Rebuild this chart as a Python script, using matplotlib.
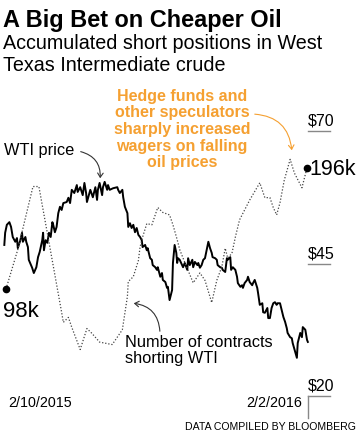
import matplotlib
matplotlib.use("Agg")
import matplotlib.pyplot as plt
from matplotlib.patches import FancyArrowPatch

plt.rcParams["font.family"] = ["Liberation Sans", "DejaVu Sans"]

# ── Data ─────────────────────────────────────────────────────────────────────

# WTI crude price, days since 2/10/2015
price_days = [
    -2, -1, 1, 4, 6, 8, 11, 13, 14, 17, 19, 20, 23, 24, 26, 27, 31, 33, 36, 38,
    40, 43, 44, 45, 47, 49, 51, 53, 55, 56, 58, 60, 62, 64, 66, 68, 72, 74, 76, 78,
    81, 84, 85, 88, 91, 93, 95, 96,
    100, 103, 106, 108, 109, 111, 114, 115, 117, 120, 121, 123, 127, 132, 133, 135,
    138, 139, 141, 144, 145, 147, 149, 151, 153, 155, 157, 159, 161, 162, 165, 167,
    168, 171, 173, 174, 177, 179, 180, 183, 185, 186, 189, 191, 192, 194, 197, 198,
    200, 202, 203, 204,
    206, 210, 212, 215, 216, 218, 221, 222, 224, 227, 228, 230, 232, 234, 236, 238,
    240, 242, 244, 245, 248, 250, 251, 254, 256, 257, 260, 262, 263, 266, 267, 269,
    272, 274, 275, 278, 280, 281, 283, 286, 287, 289, 292, 293, 295, 298, 299, 301,
    304, 305, 307, 310, 311, 313, 315, 317, 319, 321, 322, 325, 327, 329, 331, 333,
    334, 337, 339, 340, 343, 345, 346, 349, 351, 352, 355, 357, 358,
]
wti_price = [
    48.5, 50.8, 52.3, 52.8, 51.9, 50.0, 49.1, 49.8, 47.9, 49.4, 50.8, 49.1, 50.0, 49.1,
    48.1, 45.7, 44.2, 43.2, 44.3, 46.2, 47.2, 49.4, 50.8, 47.5, 49.4, 48.9, 50.8, 50.0,
    52.8, 52.3, 50.9, 51.9, 54.5, 55.7, 55.1, 56.4, 56.6, 57.4, 56.4, 58.9, 58.3, 59.8,
    58.5, 59.4, 57.9, 60.2, 58.3, 56.6,
    58.9, 57.5, 59.4, 57.0, 58.9, 60.2, 57.9, 59.4, 60.4, 58.9, 59.8, 58.9, 59.2, 59.4,
    58.9, 58.3, 58.9, 57.5, 55.7, 54.5, 51.9, 52.6, 51.7, 52.3, 50.9, 51.7, 50.4, 50.0,
    49.4, 48.1, 48.5, 47.5, 47.9, 46.0, 45.7, 44.7, 44.3, 43.8, 44.3, 42.5, 43.2, 41.9,
    41.5, 40.4, 40.6, 38.1, 40.0, 45.1, 48.5, 47.0, 45.1, 46.0,
    45.7, 44.3, 45.1, 43.8, 46.0, 44.7, 45.7, 44.3, 45.3, 44.7, 45.1, 44.2, 44.7, 45.7,
    46.0, 47.5, 49.1, 47.9, 47.0, 46.2, 46.0, 45.7, 44.7, 44.3, 44.2, 43.8, 43.4, 46.0,
    45.7, 46.2, 43.8, 44.3, 43.8, 42.5, 41.3, 40.6, 40.9, 40.4, 41.3, 41.9, 42.5, 41.5,
    40.9, 41.3, 41.9, 40.4, 39.4, 37.2, 37.5, 35.8, 35.7, 36.6, 34.7, 34.7, 36.6, 37.5,
    37.7, 37.2, 37.5, 37.5, 36.2, 34.9, 34.0, 32.8, 31.9, 31.1, 30.9, 30.0, 28.3, 27.2,
    30.0, 31.9, 31.1, 33.0, 32.5, 30.6, 30.2,
]

# Net short contracts (thousands), weekly
short_days = [
    0, 14, 32, 39, 52, 66, 68, 74, 78, 88, 96, 102, 111, 126, 138, 144, 145, 151,
    157, 159, 162, 167, 173, 180, 186, 194, 198, 203, 206, 210, 216, 222, 230, 236,
    244, 250, 256, 260, 263, 268, 272, 277, 289, 301, 307, 313, 317, 321, 325, 330,
    337, 342, 351, 357,
]
short_k = [
    98, 130, 181, 181, 132, 79, 71, 75, 67, 49, 66, 62, 55, 53, 65, 92, 104, 108,
    121, 132, 140, 151, 150, 164, 160, 158, 150, 138, 130, 123, 113, 103, 111, 105,
    87, 105, 116, 131, 123, 127, 140, 154, 170, 184, 172, 172, 164, 158, 168, 186,
    203, 192, 180, 196,
]

price_ticks = [70, 45, 20]
date_labels = ["2/10/2015", "2/2/2016"]

ORANGE = "#F5A031"
W, H = 360, 438


def fp(x, y):
    """Pixel position (origin top-left) -> figure fraction."""
    return x / W, 1 - y / H


# ── Figure ───────────────────────────────────────────────────────────────────

fig = plt.figure(figsize=(W / 100, H / 100), dpi=100)
ax = fig.add_axes([6 / W, 42 / H, 301 / W, 265 / H])
ax.set_xlim(0, 357)
ax.set_ylim(20, 70)
ax.axis("off")

ax2 = ax.twinx()
k_per_px = (196 - 98) / (289 - 168)
ax2.set_ylim(98 - (396 - 289) * k_per_px, 98 + (289 - 131) * k_per_px)
ax2.axis("off")

ax.plot(price_days, wti_price, color="black", lw=1.4, clip_on=False,
        solid_joinstyle="round")
ax2.plot(short_days, short_k, color="#444444", lw=0.9, ls=(0, (1, 1.5)),
         clip_on=False)
ax2.plot([short_days[0], short_days[-1]], [short_k[0], short_k[-1]], "o",
         color="black", ms=4.5, clip_on=False)
ax2.annotate(f"{short_k[0]}k", (short_days[0], short_k[0]), xytext=(-2, -20),
             textcoords="offset points", fontsize=16, va="baseline", ha="left")
ax2.annotate(f"{short_k[-1]}k", (short_days[-1], short_k[-1]), xytext=(2, -5),
             textcoords="offset points", fontsize=15.5, va="baseline", ha="left")

# Price scale on the right, underlined
for p in price_ticks:
    ax.text(1.004, p + 1.0, f"${p}", transform=ax.get_yaxis_transform(),
            fontsize=11.5, va="baseline", ha="left")
    ax.plot([1.004, 1.076], [p, p], transform=ax.get_yaxis_transform(),
            color="#888888", lw=1, clip_on=False)
ax.plot([1.004, 1.004], [20, 20 - 22 / 5.3], transform=ax.get_yaxis_transform(),
        color="#888888", lw=1, clip_on=False)

# ── Text ─────────────────────────────────────────────────────────────────────

fig.text(*fp(3, 27), "A Big Bet on Cheaper Oil", fontsize=16.9, weight="bold",
         va="baseline")
fig.text(*fp(3, 49), "Accumulated short positions in West", fontsize=14.2,
         va="baseline")
fig.text(*fp(3, 71), "Texas Intermediate crude", fontsize=14.2, va="baseline")

fig.text(*fp(4, 155), "WTI price", fontsize=11.8, va="baseline")
fig.text(*fp(125, 347), "Number of contracts", fontsize=11.8, va="baseline")
fig.text(*fp(125, 363), "shorting WTI", fontsize=11.8, va="baseline")

orange_lines = ["Hedge funds and", "other speculators", "sharply increased",
                "wagers on falling", "oil prices"]
for i, line in enumerate(orange_lines):
    fig.text(*fp(182, 101 + i * 16.5), line, fontsize=11.5, weight="bold",
             color=ORANGE, ha="center", va="baseline")

fig.text(*fp(8, 407), date_labels[0], fontsize=10.3, va="baseline")
fig.text(*fp(302, 407), date_labels[1], fontsize=10.3, va="baseline", ha="right")
fig.text(*fp(356, 430), "DATA COMPILED BY BLOOMBERG", fontsize=7.6,
         va="baseline", ha="right")

# ── Arrows ───────────────────────────────────────────────────────────────────

arrows = [
    (fp(78, 151), fp(100, 181), -0.45, "#333333"),
    (fp(252, 114), fp(292, 153), -0.45, ORANGE),
    (fp(160, 334), fp(131, 303), 0.45, "#333333"),
]
for start, end, rad, col in arrows:
    fig.add_artist(FancyArrowPatch(
        start, end, transform=fig.transFigure,
        connectionstyle=f"arc3,rad={rad}", arrowstyle="->,head_length=3,head_width=2",
        color=col, lw=0.8))

fig.savefig("out.png", dpi=100)
